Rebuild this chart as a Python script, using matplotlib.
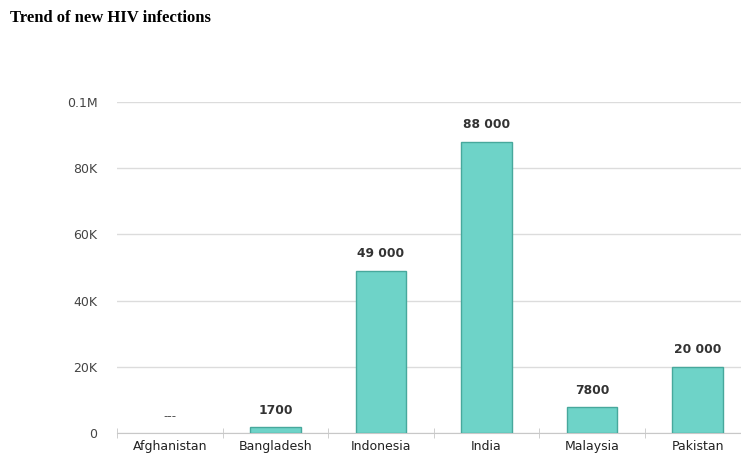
import numpy as np
import matplotlib.pyplot as plt
from matplotlib.ticker import FixedLocator

# data (Afghanistan has no value, shown as "---")
countries = ["Afghanistan", "Bangladesh", "Indonesia", "India", "Malaysia", "Pakistan"]
new_infections = [np.nan, 1700, 49000, 88000, 7800, 20000]
bar_labels = ["---", "1700", "49 000", "88 000", "7800", "20 000"]
y_ticks = [0, 20000, 40000, 60000, 80000, 100000]
y_tick_labels = ["0", "20K", "40K", "60K", "80K", "0.1M"]

fig = plt.figure(figsize=(7.41, 4.55), dpi=100)
ax = fig.add_axes([117 / 741, 22 / 455, 1 - 117 / 741, (433 - 102) / 455])

x = np.arange(len(countries))
ax.bar(x, new_infections, width=0.48, color="#6ed3c8", edgecolor="#47a89c", linewidth=1.0, zorder=3)

for xi, v, lab in zip(x, np.nan_to_num(new_infections), bar_labels):
    if v == 0:
        ax.text(xi, v + 3000, lab, ha="center", va="bottom", fontsize=8.5, color="#555555", zorder=4)
    else:
        ax.text(xi, v + 3200, lab, ha="center", va="bottom", fontsize=8.8, fontweight="bold",
                color="#333333", zorder=4)

ax.set_xlim(-0.5, 5.41)
ax.set_ylim(0, 100000)
ax.set_yticks(y_ticks)
ax.set_yticklabels(y_tick_labels)
ax.set_xticks(x)
ax.set_xticklabels(countries)
ax.xaxis.set_minor_locator(FixedLocator(np.arange(-0.5, 6, 1.0)))

ax.grid(axis="y", color="#dcdcdc", linewidth=1.0, zorder=0)
for s in ["top", "right", "left"]:
    ax.spines[s].set_visible(False)
ax.spines["bottom"].set_color("#c8c8c8")
ax.tick_params(axis="y", length=0, pad=14, labelsize=9, labelcolor="#444444")
ax.tick_params(axis="x", which="major", length=0, pad=5, labelsize=9, labelcolor="#222222")
ax.tick_params(axis="x", which="minor", length=7, color="#c8c8c8", direction="inout")

fig.text(10 / 741, 1 - 18 / 455, "Trend of new HIV infections", family="Liberation Serif",
         fontweight="bold", fontsize=12, va="center", ha="left")

fig.savefig("out.png", dpi=100)
